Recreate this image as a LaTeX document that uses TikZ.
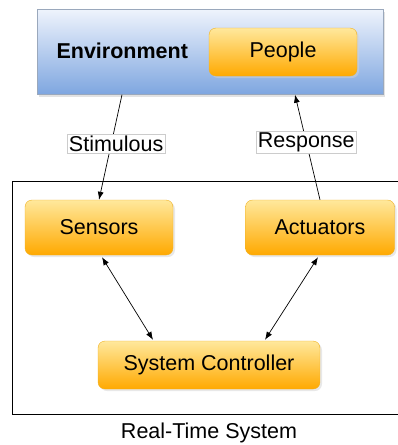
\documentclass[tikz,border=0pt]{standalone}
\usepackage{fontspec}
\setmainfont{Liberation Sans}
\usepackage{tikz}
\usetikzlibrary{shadows}
\usetikzlibrary{arrows.meta}
\usetikzlibrary{positioning}

\definecolor{envtop}{HTML}{EEF3FC}
\definecolor{envbot}{HTML}{7EA6E0}
\definecolor{envline}{HTML}{9AA8BC}
\definecolor{orgtop}{HTML}{FFE89C}
\definecolor{orgmid}{HTML}{FFC21E}
\definecolor{orgbot}{HTML}{FFA900}
\definecolor{orgline}{HTML}{F0B020}

\begin{document}
\begin{tikzpicture}[x=1pt,y=-1pt,
    every node/.style={font=\fontsize{21.5}{25}\selectfont},
    envbox/.style={draw=envline, top color=envtop, bottom color=envbot,
        minimum width=346pt, minimum height=85pt,
        drop shadow={shadow xshift=2pt, shadow yshift=-2pt, fill=gray!45}},
    block/.style={draw=orgline, rounded corners=7pt, top color=orgtop,
        middle color=orgmid, bottom color=orgbot,
        minimum height=50pt, inner sep=0pt,
        drop shadow={shadow xshift=2pt, shadow yshift=-2pt, fill=gray!35}},
    lbl/.style={draw=gray!40, fill=white, inner sep=1.5pt},
    link/.style={draw, line width=0.7pt, -{Latex[length=8pt,width=6pt]}},
    both/.style={draw, line width=0.7pt, {Latex[length=8pt,width=6pt]}-{Latex[length=8pt,width=6pt]}}]
    \useasboundingbox (0,0) rectangle (398,445);
    \clip (0,0) rectangle (398,445);

    % environment and the system boundary
    \node [envbox] (env) at (210,52) {};
    \node [anchor=west, font=\fontsize{21.5}{25}\selectfont\bfseries] (envtxt) at (53,51) {Environment};
    \node [block, minimum width=148pt, minimum height=48pt] (people) at (283,52) {People};
    \draw [line width=0.8pt] (12,181) rectangle (430,414);

    \node [block, minimum width=148pt, minimum height=55pt] (sen) at (99,227.5) {Sensors};
    \node [block, minimum width=149pt, minimum height=55pt] (act) at (320,227.5) {Actuators};
    \node [block, minimum width=222pt, minimum height=48pt] (ctrl) at (209,365) {System Controller};
    \node (rts) at (209,433) {Real-Time System};

    % signals in and out
    \path [link] ([xshift=-88pt]env.south) -- (sen.north)
        node [lbl, pos=0.47, xshift=5pt] (stim) {Stimulous};
    \path [link] (act.north) -- ([xshift=85pt]env.south)
        node [lbl, pos=0.55] (resp) {Response};

    % controller links
    \path [both] ([xshift=3pt,yshift=-2pt]sen.south) -- ([xshift=-56pt,yshift=1pt]ctrl.north);
    \path [both] ([xshift=-2pt,yshift=-2pt]act.south) -- ([xshift=56pt,yshift=1pt]ctrl.north);
\end{tikzpicture}
\end{document}
